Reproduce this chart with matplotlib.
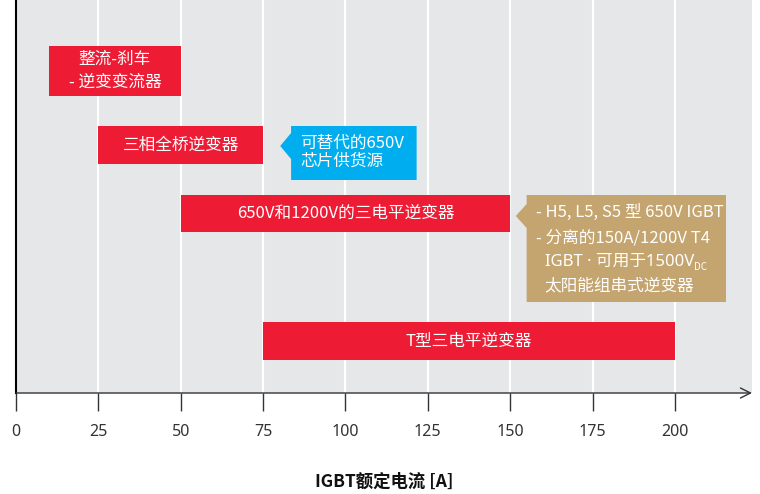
import matplotlib
matplotlib.use("Agg")
import matplotlib.pyplot as plt
from matplotlib.patches import Polygon

plt.rcParams['font.family'] = ['Noto Sans CJK SC', 'DejaVu Sans']

# 数据：拓扑及其对应的IGBT额定电流范围 [A]
topologies = ["整流-刹车\n- 逆变变流器", "三相全桥逆变器", "650V和1200V的三电平逆变器", "T型三电平逆变器"]
current_start = [10, 25, 50, 75]
current_end = [50, 75, 150, 200]
x_ticks = [0, 25, 50, 75, 100, 125, 150, 175, 200]
x_label = "IGBT额定电流 [A]"

blue_note = "可替代的650V\n芯片供货源"
tan_lines = ["- H5, L5, S5 型 650V IGBT", "- 分离的150A/1200V T4", "IGBT · 可用于1500V", "太阳能组串式逆变器"]
tan_sub = "DC"

# 版式（纵向用像素坐标，0在上）
row_y = [71, 145, 213.5, 341]
row_h = [50, 38, 37, 38]
x_max = 223.4
y_bottom = 393

red = "#ED1B34"
blue = "#00AEEF"
tan = "#C4A46F"
bg = "#E6E7E8"

fig = plt.figure(figsize=(7.6, 4.94), dpi=100)
ax = fig.add_axes([16 / 760, 101 / 494, 736 / 760, 393 / 494])
ax.set_facecolor(bg)
ax.set_xlim(0, x_max)
ax.set_ylim(y_bottom, 0)

for t in x_ticks[1:]:
    ax.axvline(t, color="white", lw=1.5, zorder=1)

for name, s, e, y, h in zip(topologies, current_start, current_end, row_y, row_h):
    ax.barh(y, e - s, left=s, height=h, color=red, zorder=3)
    ax.text((s + e) / 2, y, name, ha="center", va="center", color="white",
            fontsize=12, linespacing=1.45, zorder=4)

# 蓝色说明框
bx0, bx1, by0, by1 = 83.5, 121.6, 126, 180
ax.add_patch(Polygon([(bx0, by0), (bx1, by0), (bx1, by1), (bx0, by1),
                      (bx0, 159), (80.2, 146), (bx0, 133)],
                     closed=True, facecolor=blue, edgecolor="none", zorder=3))
ax.text(86.3, 152.5, blue_note, ha="left", va="center", color="white",
        fontsize=12, linespacing=1.1, zorder=4)

# 棕色说明框
tx0, tx1, ty0, ty1 = 155, 215.5, 195, 302
ax.add_patch(Polygon([(tx0, ty0), (tx1, ty0), (tx1, ty1), (tx0, ty1),
                      (tx0, 228), (151.7, 216), (tx0, 204)],
                     closed=True, facecolor=tan, edgecolor="none", zorder=3))
line_y = [212, 237.5, 262, 286]
line_x = [157.9, 157.9, 160.5, 160.5]
for txt, lx, ly in zip(tan_lines, line_x, line_y):
    if txt.endswith("1500V"):
        # 中点用比例字体，避免全角间距
        t = ax.text(lx, ly, txt, ha="left", va="center", color="white", fontsize=12,
                    family=["Noto Sans", "Noto Sans CJK SC"], zorder=4)
        ax.annotate(tan_sub, xy=(1, 0.18), xycoords=t, ha="left", va="center",
                    color="white", fontsize=7, zorder=4)
    else:
        ax.text(lx, ly, txt, ha="left", va="center", color="white", fontsize=12, zorder=4)

# 坐标轴
for side in ["top", "right", "bottom"]:
    ax.spines[side].set_visible(False)
ax.spines["left"].set_color("black")
ax.spines["left"].set_linewidth(1.5)
ax.annotate("", xy=(1.0, 0), xytext=(0, 0), xycoords="axes fraction",
            arrowprops=dict(arrowstyle="->", color="#333333", lw=1.0,
                            mutation_scale=18, shrinkA=0, shrinkB=0))
ax.set_xticks(x_ticks)
ax.set_xticklabels([str(v) for v in x_ticks], family=["Noto Sans", "DejaVu Sans"])
ax.tick_params(axis="x", length=13, width=1, color="#333333", labelsize=11.5,
               labelcolor="#333333", pad=9)
ax.set_yticks([])
ax.set_xlabel(x_label, fontsize=12.5, color="#111111", labelpad=24, fontweight="bold")

fig.savefig("out.png", dpi=100)
